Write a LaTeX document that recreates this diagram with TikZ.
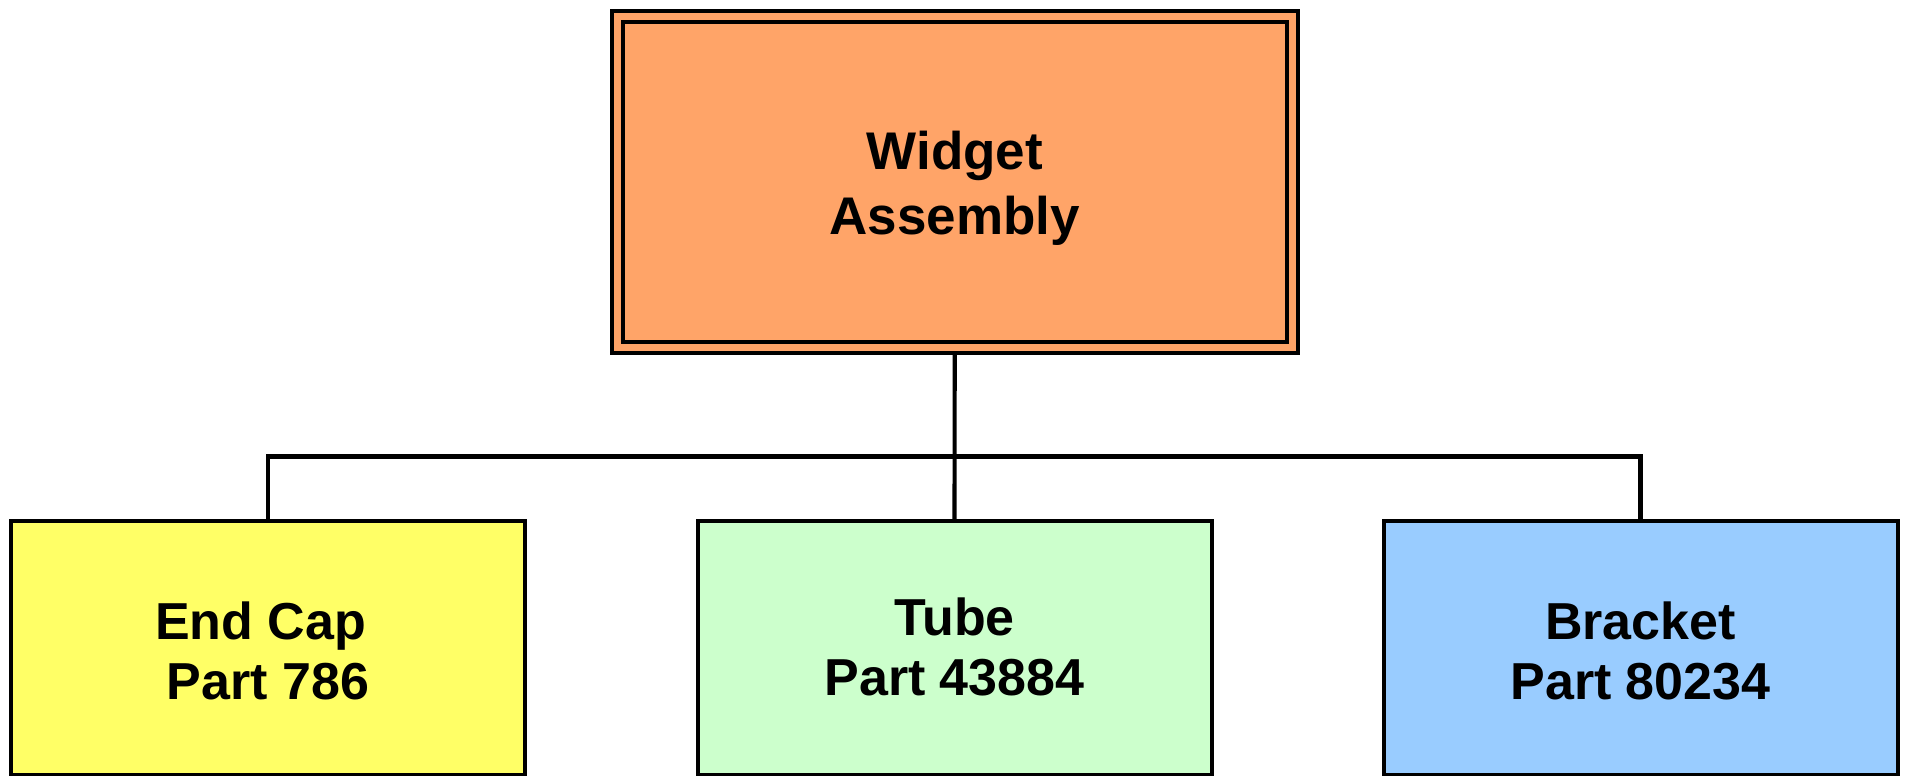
\documentclass[tikz,border=0pt]{standalone}
\usepackage{fontspec}
\setmainfont{Liberation Sans}
\usetikzlibrary{backgrounds}
\definecolor{topfill}{HTML}{FFA468}
\definecolor{capfill}{HTML}{FFFF66}
\definecolor{tubefill}{HTML}{CCFFCC}
\definecolor{brkfill}{HTML}{99CCFF}
\newcommand{\boxtext}[2]{\raisebox{-#1}[\height][\depth]{\begin{tabular}{@{}c@{}}#2\end{tabular}}}
\tikzset{
  topbox/.style={draw=black, line width=2pt, double=topfill, double distance=3.5pt,
    fill=topfill, minimum width=337.75pt, minimum height=165.75pt, inner sep=0pt,
    font=\fontsize{26.5}{32.5}\selectfont\bfseries},
  partbox/.style={draw=black, line width=2pt, minimum width=257pt, minimum height=127pt,
    inner sep=0pt, font=\fontsize{26}{30}\selectfont\bfseries},
  link/.style={draw=black, line width=2.1pt}
}
\begin{document}
\begin{tikzpicture}[x=0.5pt, y=-0.5pt]
\useasboundingbox (0,0) rectangle (1906,776);
\node[topbox] (top) at (954.75,182) {\boxtext{3.5pt}{Widget\\Assembly}};
\node[partbox, fill=capfill] (cap) at (268,648.25) {\boxtext{4.5pt}{End Cap\kern0.28em\\Part 786}};
\node[partbox, fill=tubefill] (tube) at (954.5,648.25) {\boxtext{2.5pt}{Tube\\Part 43884}};
\node[partbox, fill=brkfill] (brk) at (1640.5,648.25) {\boxtext{4.5pt}{Bracket\\Part 80234}};
\coordinate (bus) at (954.5,456.5);
\begin{scope}[on background layer]
\draw[link] (top.center) -- (tube.center);
\draw[link] (cap.north) |- (bus) -| (brk.north);
\end{scope}
\end{tikzpicture}
\end{document}
